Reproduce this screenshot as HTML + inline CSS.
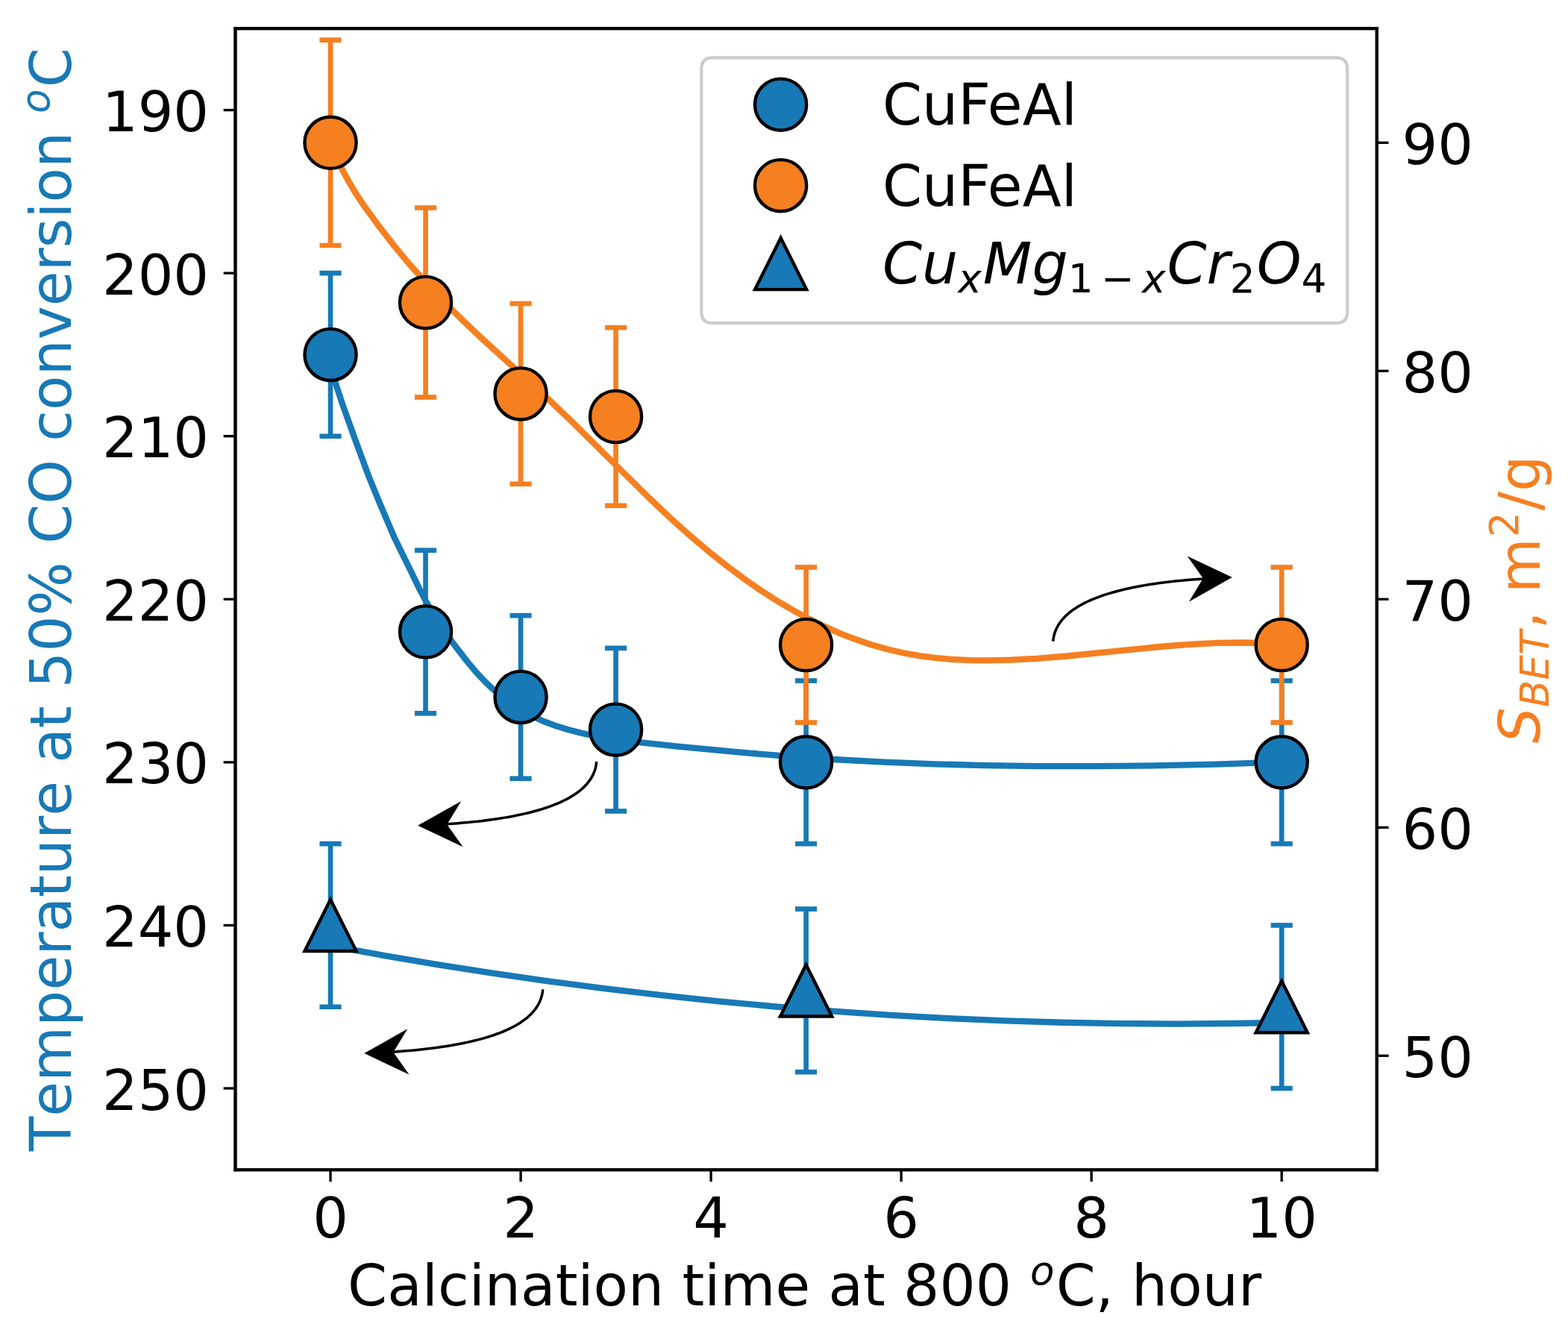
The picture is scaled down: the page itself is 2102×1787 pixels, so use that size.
<!DOCTYPE html>
<html><head><meta charset="utf-8"><title>Calcination plot</title>
<style>html,body{margin:0;padding:0;background:#fff;}svg{display:block;}</style>
</head><body>
<svg width="2102" height="1787" viewBox="0 0 504.48 428.88">
<defs>
<style type="text/css">*{stroke-linejoin: round; stroke-linecap: butt}</style>
</defs>
<g id="figure_1">
<g id="patch_1">
<path d="M 0 428.88
L 504.48 428.88
L 504.48 0
L 0 0
z
" style="fill: #ffffff"/>
</g>
<g id="axes_1">
<g id="patch_2">
<path d="M 75.72 376.392
L 442.968 376.392
L 442.968 9.192
L 75.72 9.192
z
" style="fill: #ffffff"/>
</g>
<g id="line2d_1">
<path d="M 106.324 117.724366
L 108.37109 124.546892
L 110.418181 130.718595
L 114.512361 142.089996
L 118.606542 153.179282
L 121.677177 160.71918
L 126.794903 172.780124
L 128.841993 176.967288
L 131.912629 183.176933
L 134.983264 189.579504
L 137.030355 193.457577
L 140.10099 198.681127
L 143.171625 203.333709
L 146.242261 207.574294
L 150.336441 212.856295
L 153.407077 216.515482
L 156.477712 219.754907
L 159.548348 222.600902
L 162.618983 225.086142
L 165.689619 227.243304
L 168.760254 229.105064
L 171.83089 230.704097
L 174.901525 232.073079
L 178.995706 233.59701
L 183.089886 234.847488
L 187.184067 235.89028
L 192.301793 236.952844
L 197.419518 237.799872
L 204.584334 238.730022
L 217.890421 240.13004
L 238.361324 242.089596
L 253.714502 243.345065
L 269.067679 244.376871
L 284.420856 245.194274
L 300.797579 245.842724
L 317.174301 246.274098
L 334.574569 246.510091
L 352.998381 246.528407
L 371.422194 246.327926
L 390.869552 245.900756
L 412.364 245.198553
L 412.364 245.198553
" clip-path="url(#p5c4e13d4b1)" style="fill: none; stroke: #1779b6; stroke-width: 2"/>
</g>
<g id="line2d_2">
<path d="M 106.324 304.308435
L 123.724268 307.454715
L 141.124535 310.386291
L 158.524803 313.104074
L 175.92507 315.608978
L 194.348883 318.030213
L 212.772696 320.214893
L 231.196508 322.164102
L 249.620321 323.878924
L 268.044134 325.360441
L 286.467946 326.609737
L 304.891759 327.627896
L 323.315572 328.416
L 341.739385 328.975133
L 360.163197 329.306379
L 378.58701 329.41082
L 397.010823 329.289539
L 412.364 329.016828
L 412.364 329.016828
" clip-path="url(#p5c4e13d4b1)" style="fill: none; stroke: #1779b6; stroke-width: 2"/>
</g>
<g id="matplotlib.axis_1">
<g id="xtick_1">
<g id="line2d_3">
<g>
<path d="M 0 0 L 0 3.8" transform="translate(106.324 376.392)" style="stroke: #000000; stroke-width: 0.8"/>
</g>
</g>
<g id="text_1">
<text style="font-size: 18px; font-family: 'DejaVu Sans', sans-serif; text-anchor: middle" x="106.324" y="398.119188" transform="rotate(-0 106.324 398.119188)">0</text>
</g>
</g>
<g id="xtick_2">
<g id="line2d_4">
<g>
<path d="M 0 0 L 0 3.8" transform="translate(167.532 376.392)" style="stroke: #000000; stroke-width: 0.8"/>
</g>
</g>
<g id="text_2">
<text style="font-size: 18px; font-family: 'DejaVu Sans', sans-serif; text-anchor: middle" x="167.532" y="398.119188" transform="rotate(-0 167.532 398.119188)">2</text>
</g>
</g>
<g id="xtick_3">
<g id="line2d_5">
<g>
<path d="M 0 0 L 0 3.8" transform="translate(228.74 376.392)" style="stroke: #000000; stroke-width: 0.8"/>
</g>
</g>
<g id="text_3">
<text style="font-size: 18px; font-family: 'DejaVu Sans', sans-serif; text-anchor: middle" x="228.74" y="398.119188" transform="rotate(-0 228.74 398.119188)">4</text>
</g>
</g>
<g id="xtick_4">
<g id="line2d_6">
<g>
<path d="M 0 0 L 0 3.8" transform="translate(289.948 376.392)" style="stroke: #000000; stroke-width: 0.8"/>
</g>
</g>
<g id="text_4">
<text style="font-size: 18px; font-family: 'DejaVu Sans', sans-serif; text-anchor: middle" x="289.948" y="398.119188" transform="rotate(-0 289.948 398.119188)">6</text>
</g>
</g>
<g id="xtick_5">
<g id="line2d_7">
<g>
<path d="M 0 0 L 0 3.8" transform="translate(351.156 376.392)" style="stroke: #000000; stroke-width: 0.8"/>
</g>
</g>
<g id="text_5">
<text style="font-size: 18px; font-family: 'DejaVu Sans', sans-serif; text-anchor: middle" x="351.156" y="398.119188" transform="rotate(-0 351.156 398.119188)">8</text>
</g>
</g>
<g id="xtick_6">
<g id="line2d_8">
<g>
<path d="M 0 0 L 0 3.8" transform="translate(412.364 376.392)" style="stroke: #000000; stroke-width: 0.8"/>
</g>
</g>
<g id="text_6">
<text style="font-size: 18px; font-family: 'DejaVu Sans', sans-serif; text-anchor: middle" x="412.364" y="398.119188" transform="rotate(-0 412.364 398.119188)">10</text>
</g>
</g>
<g id="text_7">
<!-- Calcination time at 800 $^o$C, hour -->
<g transform="translate(111.86 420.141781)">
<text>
<tspan x="0" y="-0.054688" style="font-size: 18.2px; font-family: 'DejaVu Sans', sans-serif">C</tspan>
<tspan x="12.74292" y="-0.054688" style="font-size: 18.2px; font-family: 'DejaVu Sans', sans-serif">a</tspan>
<tspan x="23.926392" y="-0.054688" style="font-size: 18.2px; font-family: 'DejaVu Sans', sans-serif">l</tspan>
<tspan x="28.996826" y="-0.054688" style="font-size: 18.2px; font-family: 'DejaVu Sans', sans-serif">c</tspan>
<tspan x="39.030762" y="-0.054688" style="font-size: 18.2px; font-family: 'DejaVu Sans', sans-serif">i</tspan>
<tspan x="44.101196" y="-0.054688" style="font-size: 18.2px; font-family: 'DejaVu Sans', sans-serif">n</tspan>
<tspan x="55.667847" y="-0.054688" style="font-size: 18.2px; font-family: 'DejaVu Sans', sans-serif">a</tspan>
<tspan x="66.851318" y="-0.054688" style="font-size: 18.2px; font-family: 'DejaVu Sans', sans-serif">t</tspan>
<tspan x="74.006958" y="-0.054688" style="font-size: 18.2px; font-family: 'DejaVu Sans', sans-serif">i</tspan>
<tspan x="79.077393" y="-0.054688" style="font-size: 18.2px; font-family: 'DejaVu Sans', sans-serif">o</tspan>
<tspan x="90.243042" y="-0.054688" style="font-size: 18.2px; font-family: 'DejaVu Sans', sans-serif">n</tspan>
<tspan x="101.809692" y="-0.054688" style="font-size: 18.2px; font-family: 'DejaVu Sans', sans-serif"> </tspan>
<tspan x="107.61084" y="-0.054688" style="font-size: 18.2px; font-family: 'DejaVu Sans', sans-serif">t</tspan>
<tspan x="114.766479" y="-0.054688" style="font-size: 18.2px; font-family: 'DejaVu Sans', sans-serif">i</tspan>
<tspan x="119.836914" y="-0.054688" style="font-size: 18.2px; font-family: 'DejaVu Sans', sans-serif">m</tspan>
<tspan x="137.614624" y="-0.054688" style="font-size: 18.2px; font-family: 'DejaVu Sans', sans-serif">e</tspan>
<tspan x="148.842651" y="-0.054688" style="font-size: 18.2px; font-family: 'DejaVu Sans', sans-serif"> </tspan>
<tspan x="154.643799" y="-0.054688" style="font-size: 18.2px; font-family: 'DejaVu Sans', sans-serif">a</tspan>
<tspan x="165.827271" y="-0.054688" style="font-size: 18.2px; font-family: 'DejaVu Sans', sans-serif">t</tspan>
<tspan x="172.98291" y="-0.054688" style="font-size: 18.2px; font-family: 'DejaVu Sans', sans-serif"> </tspan>
<tspan x="178.784058" y="-0.054688" style="font-size: 18.2px; font-family: 'DejaVu Sans', sans-serif">8</tspan>
<tspan x="190.395264" y="-0.054688" style="font-size: 18.2px; font-family: 'DejaVu Sans', sans-serif">0</tspan>
<tspan x="202.00647" y="-0.054688" style="font-size: 18.2px; font-family: 'DejaVu Sans', sans-serif">0</tspan>
<tspan x="213.617676" y="-0.054688" style="font-size: 18.2px; font-family: 'DejaVu Sans', sans-serif"> </tspan>
<tspan x="227.899231" y="-0.054688" style="font-size: 18.2px; font-family: 'DejaVu Sans', sans-serif">C</tspan>
<tspan x="240.642151" y="-0.054688" style="font-size: 18.2px; font-family: 'DejaVu Sans', sans-serif">,</tspan>
<tspan x="246.443298" y="-0.054688" style="font-size: 18.2px; font-family: 'DejaVu Sans', sans-serif"> </tspan>
<tspan x="252.244446" y="-0.054688" style="font-size: 18.2px; font-family: 'DejaVu Sans', sans-serif">h</tspan>
<tspan x="263.811096" y="-0.054688" style="font-size: 18.2px; font-family: 'DejaVu Sans', sans-serif">o</tspan>
<tspan x="274.976746" y="-0.054688" style="font-size: 18.2px; font-family: 'DejaVu Sans', sans-serif">u</tspan>
<tspan x="286.543396" y="-0.054688" style="font-size: 18.2px; font-family: 'DejaVu Sans', sans-serif">r</tspan>
<tspan x="219.591089" y="-6.945312" style="font-style: oblique; font-size: 12.74px; font-family: 'DejaVu Sans', sans-serif">o</tspan>
</text>
</g>
</g>
</g>
<g id="matplotlib.axis_2">
<g id="ytick_1">
<g id="line2d_9">
<g>
<path d="M 0 0 L -3.8 0" transform="translate(75.72 35.420571)" style="stroke: #000000; stroke-width: 0.8"/>
</g>
</g>
<g id="text_8">
<text style="font-size: 18px; font-family: 'DejaVu Sans', sans-serif; text-anchor: end" x="67.22" y="42.259165" transform="rotate(-0 67.22 42.259165)">190</text>
</g>
</g>
<g id="ytick_2">
<g id="line2d_10">
<g>
<path d="M 0 0 L -3.8 0" transform="translate(75.72 87.877714)" style="stroke: #000000; stroke-width: 0.8"/>
</g>
</g>
<g id="text_9">
<text style="font-size: 18px; font-family: 'DejaVu Sans', sans-serif; text-anchor: end" x="67.22" y="94.716308" transform="rotate(-0 67.22 94.716308)">200</text>
</g>
</g>
<g id="ytick_3">
<g id="line2d_11">
<g>
<path d="M 0 0 L -3.8 0" transform="translate(75.72 140.334857)" style="stroke: #000000; stroke-width: 0.8"/>
</g>
</g>
<g id="text_10">
<text style="font-size: 18px; font-family: 'DejaVu Sans', sans-serif; text-anchor: end" x="67.22" y="147.173451" transform="rotate(-0 67.22 147.173451)">210</text>
</g>
</g>
<g id="ytick_4">
<g id="line2d_12">
<g>
<path d="M 0 0 L -3.8 0" transform="translate(75.72 192.792)" style="stroke: #000000; stroke-width: 0.8"/>
</g>
</g>
<g id="text_11">
<text style="font-size: 18px; font-family: 'DejaVu Sans', sans-serif; text-anchor: end" x="67.22" y="199.630594" transform="rotate(-0 67.22 199.630594)">220</text>
</g>
</g>
<g id="ytick_5">
<g id="line2d_13">
<g>
<path d="M 0 0 L -3.8 0" transform="translate(75.72 245.249143)" style="stroke: #000000; stroke-width: 0.8"/>
</g>
</g>
<g id="text_12">
<text style="font-size: 18px; font-family: 'DejaVu Sans', sans-serif; text-anchor: end" x="67.22" y="252.087737" transform="rotate(-0 67.22 252.087737)">230</text>
</g>
</g>
<g id="ytick_6">
<g id="line2d_14">
<g>
<path d="M 0 0 L -3.8 0" transform="translate(75.72 297.706286)" style="stroke: #000000; stroke-width: 0.8"/>
</g>
</g>
<g id="text_13">
<text style="font-size: 18px; font-family: 'DejaVu Sans', sans-serif; text-anchor: end" x="67.22" y="304.544879" transform="rotate(-0 67.22 304.544879)">240</text>
</g>
</g>
<g id="ytick_7">
<g id="line2d_15">
<g>
<path d="M 0 0 L -3.8 0" transform="translate(75.72 350.163429)" style="stroke: #000000; stroke-width: 0.8"/>
</g>
</g>
<g id="text_14">
<text style="font-size: 18px; font-family: 'DejaVu Sans', sans-serif; text-anchor: end" x="67.22" y="357.002022" transform="rotate(-0 67.22 357.002022)">250</text>
</g>
</g>
<g id="text_15">
<!-- Temperature at 50% CO conversion $^o$C -->
<g style="fill: #1779b6" transform="translate(22.78 370.3645) rotate(-90)">
<text>
<tspan x="0" y="-0.054688" style="font-size: 18.25px; font-family: 'DejaVu Sans', sans-serif; fill: #1779b6">T</tspan>
<tspan x="11.147827" y="-0.054688" style="font-size: 18.25px; font-family: 'DejaVu Sans', sans-serif; fill: #1779b6">e</tspan>
<tspan x="22.375854" y="-0.054688" style="font-size: 18.25px; font-family: 'DejaVu Sans', sans-serif; fill: #1779b6">m</tspan>
<tspan x="40.153564" y="-0.054688" style="font-size: 18.25px; font-family: 'DejaVu Sans', sans-serif; fill: #1779b6">p</tspan>
<tspan x="51.738037" y="-0.054688" style="font-size: 18.25px; font-family: 'DejaVu Sans', sans-serif; fill: #1779b6">e</tspan>
<tspan x="62.966064" y="-0.054688" style="font-size: 18.25px; font-family: 'DejaVu Sans', sans-serif; fill: #1779b6">r</tspan>
<tspan x="70.469238" y="-0.054688" style="font-size: 18.25px; font-family: 'DejaVu Sans', sans-serif; fill: #1779b6">a</tspan>
<tspan x="81.65271" y="-0.054688" style="font-size: 18.25px; font-family: 'DejaVu Sans', sans-serif; fill: #1779b6">t</tspan>
<tspan x="88.80835" y="-0.054688" style="font-size: 18.25px; font-family: 'DejaVu Sans', sans-serif; fill: #1779b6">u</tspan>
<tspan x="100.375" y="-0.054688" style="font-size: 18.25px; font-family: 'DejaVu Sans', sans-serif; fill: #1779b6">r</tspan>
<tspan x="107.878174" y="-0.054688" style="font-size: 18.25px; font-family: 'DejaVu Sans', sans-serif; fill: #1779b6">e</tspan>
<tspan x="119.106201" y="-0.054688" style="font-size: 18.25px; font-family: 'DejaVu Sans', sans-serif; fill: #1779b6"> </tspan>
<tspan x="124.907349" y="-0.054688" style="font-size: 18.25px; font-family: 'DejaVu Sans', sans-serif; fill: #1779b6">a</tspan>
<tspan x="136.09082" y="-0.054688" style="font-size: 18.25px; font-family: 'DejaVu Sans', sans-serif; fill: #1779b6">t</tspan>
<tspan x="143.24646" y="-0.054688" style="font-size: 18.25px; font-family: 'DejaVu Sans', sans-serif; fill: #1779b6"> </tspan>
<tspan x="149.047607" y="-0.054688" style="font-size: 18.25px; font-family: 'DejaVu Sans', sans-serif; fill: #1779b6">5</tspan>
<tspan x="160.658813" y="-0.054688" style="font-size: 18.25px; font-family: 'DejaVu Sans', sans-serif; fill: #1779b6">0</tspan>
<tspan x="172.27002" y="-0.054688" style="font-size: 18.25px; font-family: 'DejaVu Sans', sans-serif; fill: #1779b6">%</tspan>
<tspan x="189.611084" y="-0.054688" style="font-size: 18.25px; font-family: 'DejaVu Sans', sans-serif; fill: #1779b6"> </tspan>
<tspan x="195.412231" y="-0.054688" style="font-size: 18.25px; font-family: 'DejaVu Sans', sans-serif; fill: #1779b6">C</tspan>
<tspan x="208.155151" y="-0.054688" style="font-size: 18.25px; font-family: 'DejaVu Sans', sans-serif; fill: #1779b6">O</tspan>
<tspan x="222.519897" y="-0.054688" style="font-size: 18.25px; font-family: 'DejaVu Sans', sans-serif; fill: #1779b6"> </tspan>
<tspan x="228.321045" y="-0.054688" style="font-size: 18.25px; font-family: 'DejaVu Sans', sans-serif; fill: #1779b6">c</tspan>
<tspan x="238.35498" y="-0.054688" style="font-size: 18.25px; font-family: 'DejaVu Sans', sans-serif; fill: #1779b6">o</tspan>
<tspan x="249.52063" y="-0.054688" style="font-size: 18.25px; font-family: 'DejaVu Sans', sans-serif; fill: #1779b6">n</tspan>
<tspan x="261.08728" y="-0.054688" style="font-size: 18.25px; font-family: 'DejaVu Sans', sans-serif; fill: #1779b6">v</tspan>
<tspan x="271.887573" y="-0.054688" style="font-size: 18.25px; font-family: 'DejaVu Sans', sans-serif; fill: #1779b6">e</tspan>
<tspan x="283.115601" y="-0.054688" style="font-size: 18.25px; font-family: 'DejaVu Sans', sans-serif; fill: #1779b6">r</tspan>
<tspan x="290.618774" y="-0.054688" style="font-size: 18.25px; font-family: 'DejaVu Sans', sans-serif; fill: #1779b6">s</tspan>
<tspan x="300.126953" y="-0.054688" style="font-size: 18.25px; font-family: 'DejaVu Sans', sans-serif; fill: #1779b6">i</tspan>
<tspan x="305.197388" y="-0.054688" style="font-size: 18.25px; font-family: 'DejaVu Sans', sans-serif; fill: #1779b6">o</tspan>
<tspan x="316.363037" y="-0.054688" style="font-size: 18.25px; font-family: 'DejaVu Sans', sans-serif; fill: #1779b6">n</tspan>
<tspan x="327.929688" y="-0.054688" style="font-size: 18.25px; font-family: 'DejaVu Sans', sans-serif; fill: #1779b6"> </tspan>
<tspan x="342.211243" y="-0.054688" style="font-size: 18.25px; font-family: 'DejaVu Sans', sans-serif; fill: #1779b6">C</tspan>
<tspan x="333.903101" y="-6.945312" style="font-style: oblique; font-size: 12.775px; font-family: 'DejaVu Sans', sans-serif; fill: #1779b6">o</tspan>
</text>
</g>
</g>
</g>
<g id="LineCollection_1">
<path d="M 106.324 87.877714
L 106.324 140.334857
" clip-path="url(#p5c4e13d4b1)" style="fill: none; stroke: #1779b6; stroke-width: 1.6"/>
<path d="M 136.928 177.054857
L 136.928 229.512
" clip-path="url(#p5c4e13d4b1)" style="fill: none; stroke: #1779b6; stroke-width: 1.6"/>
<path d="M 167.532 198.037714
L 167.532 250.494857
" clip-path="url(#p5c4e13d4b1)" style="fill: none; stroke: #1779b6; stroke-width: 1.6"/>
<path d="M 198.136 208.529143
L 198.136 260.986286
" clip-path="url(#p5c4e13d4b1)" style="fill: none; stroke: #1779b6; stroke-width: 1.6"/>
<path d="M 259.344 219.020571
L 259.344 271.477714
" clip-path="url(#p5c4e13d4b1)" style="fill: none; stroke: #1779b6; stroke-width: 1.6"/>
<path d="M 412.364 219.020571
L 412.364 271.477714
" clip-path="url(#p5c4e13d4b1)" style="fill: none; stroke: #1779b6; stroke-width: 1.6"/>
</g>
<g id="line2d_16">
<g clip-path="url(#p5c4e13d4b1)">
<path d="M 3.5 0 L -3.5 -0" transform="translate(106.324 87.877714)" style="fill: #1f77b4; stroke: #1779b6; stroke-width: 1.6"/>
<path d="M 3.5 0 L -3.5 -0" transform="translate(136.928 177.054857)" style="fill: #1f77b4; stroke: #1779b6; stroke-width: 1.6"/>
<path d="M 3.5 0 L -3.5 -0" transform="translate(167.532 198.037714)" style="fill: #1f77b4; stroke: #1779b6; stroke-width: 1.6"/>
<path d="M 3.5 0 L -3.5 -0" transform="translate(198.136 208.529143)" style="fill: #1f77b4; stroke: #1779b6; stroke-width: 1.6"/>
<path d="M 3.5 0 L -3.5 -0" transform="translate(259.344 219.020571)" style="fill: #1f77b4; stroke: #1779b6; stroke-width: 1.6"/>
<path d="M 3.5 0 L -3.5 -0" transform="translate(412.364 219.020571)" style="fill: #1f77b4; stroke: #1779b6; stroke-width: 1.6"/>
</g>
</g>
<g id="line2d_17">
<g clip-path="url(#p5c4e13d4b1)">
<path d="M 3.5 0 L -3.5 -0" transform="translate(106.324 140.334857)" style="fill: #1f77b4; stroke: #1779b6; stroke-width: 1.6"/>
<path d="M 3.5 0 L -3.5 -0" transform="translate(136.928 229.512)" style="fill: #1f77b4; stroke: #1779b6; stroke-width: 1.6"/>
<path d="M 3.5 0 L -3.5 -0" transform="translate(167.532 250.494857)" style="fill: #1f77b4; stroke: #1779b6; stroke-width: 1.6"/>
<path d="M 3.5 0 L -3.5 -0" transform="translate(198.136 260.986286)" style="fill: #1f77b4; stroke: #1779b6; stroke-width: 1.6"/>
<path d="M 3.5 0 L -3.5 -0" transform="translate(259.344 271.477714)" style="fill: #1f77b4; stroke: #1779b6; stroke-width: 1.6"/>
<path d="M 3.5 0 L -3.5 -0" transform="translate(412.364 271.477714)" style="fill: #1f77b4; stroke: #1779b6; stroke-width: 1.6"/>
</g>
</g>
<g id="LineCollection_2">
<path d="M 106.324 271.477714
L 106.324 323.934857
" clip-path="url(#p5c4e13d4b1)" style="fill: none; stroke: #1779b6; stroke-width: 1.6"/>
<path d="M 259.344 292.460571
L 259.344 344.917714
" clip-path="url(#p5c4e13d4b1)" style="fill: none; stroke: #1779b6; stroke-width: 1.6"/>
<path d="M 412.364 297.706286
L 412.364 350.163429
" clip-path="url(#p5c4e13d4b1)" style="fill: none; stroke: #1779b6; stroke-width: 1.6"/>
</g>
<g id="line2d_18">
<g clip-path="url(#p5c4e13d4b1)">
<path d="M 3.5 0 L -3.5 -0" transform="translate(106.324 271.477714)" style="fill: #1f77b4; stroke: #1779b6; stroke-width: 1.6"/>
<path d="M 3.5 0 L -3.5 -0" transform="translate(259.344 292.460571)" style="fill: #1f77b4; stroke: #1779b6; stroke-width: 1.6"/>
<path d="M 3.5 0 L -3.5 -0" transform="translate(412.364 297.706286)" style="fill: #1f77b4; stroke: #1779b6; stroke-width: 1.6"/>
</g>
</g>
<g id="line2d_19">
<g clip-path="url(#p5c4e13d4b1)">
<path d="M 3.5 0 L -3.5 -0" transform="translate(106.324 323.934857)" style="fill: #1f77b4; stroke: #1779b6; stroke-width: 1.6"/>
<path d="M 3.5 0 L -3.5 -0" transform="translate(259.344 344.917714)" style="fill: #1f77b4; stroke: #1779b6; stroke-width: 1.6"/>
<path d="M 3.5 0 L -3.5 -0" transform="translate(412.364 350.163429)" style="fill: #1f77b4; stroke: #1779b6; stroke-width: 1.6"/>
</g>
</g>
<g id="patch_3">
<path d="M 75.72 376.392
L 75.72 9.192
" style="fill: none; stroke: #000000; stroke-width: 0.95; stroke-linejoin: miter; stroke-linecap: square"/>
</g>
<g id="patch_4">
<path d="M 442.968 376.392
L 442.968 9.192
" style="fill: none; stroke: #000000; stroke-width: 0.95; stroke-linejoin: miter; stroke-linecap: square"/>
</g>
<g id="patch_5">
<path d="M 75.72 376.392
L 442.968 376.392
" style="fill: none; stroke: #000000; stroke-width: 0.95; stroke-linejoin: miter; stroke-linecap: square"/>
</g>
<g id="patch_6">
<path d="M 75.72 9.192
L 442.968 9.192
" style="fill: none; stroke: #000000; stroke-width: 0.95; stroke-linejoin: miter; stroke-linecap: square"/>
</g>
<g id="line2d_20">
<g clip-path="url(#p5c4e13d4b1)">
<path d="M 0 8.3 C 2.201186 8.3 4.312513 7.42546 5.868986 5.868986 C 7.42546 4.312513 8.3 2.201186 8.3 0 C 8.3 -2.201186 7.42546 -4.312513 5.868986 -5.868986 C 4.312513 -7.42546 2.201186 -8.3 0 -8.3 C -2.201186 -8.3 -4.312513 -7.42546 -5.868986 -5.868986 C -7.42546 -4.312513 -8.3 -2.201186 -8.3 0 C -8.3 2.201186 -7.42546 4.312513 -5.868986 5.868986 C -4.312513 7.42546 -2.201186 8.3 0 8.3 z" transform="translate(106.324 114.106286)" style="fill: #1779b6; stroke: #000000; stroke-width: 1.05"/>
<path d="M 0 8.3 C 2.201186 8.3 4.312513 7.42546 5.868986 5.868986 C 7.42546 4.312513 8.3 2.201186 8.3 0 C 8.3 -2.201186 7.42546 -4.312513 5.868986 -5.868986 C 4.312513 -7.42546 2.201186 -8.3 0 -8.3 C -2.201186 -8.3 -4.312513 -7.42546 -5.868986 -5.868986 C -7.42546 -4.312513 -8.3 -2.201186 -8.3 0 C -8.3 2.201186 -7.42546 4.312513 -5.868986 5.868986 C -4.312513 7.42546 -2.201186 8.3 0 8.3 z" transform="translate(136.928 203.283429)" style="fill: #1779b6; stroke: #000000; stroke-width: 1.05"/>
<path d="M 0 8.3 C 2.201186 8.3 4.312513 7.42546 5.868986 5.868986 C 7.42546 4.312513 8.3 2.201186 8.3 0 C 8.3 -2.201186 7.42546 -4.312513 5.868986 -5.868986 C 4.312513 -7.42546 2.201186 -8.3 0 -8.3 C -2.201186 -8.3 -4.312513 -7.42546 -5.868986 -5.868986 C -7.42546 -4.312513 -8.3 -2.201186 -8.3 0 C -8.3 2.201186 -7.42546 4.312513 -5.868986 5.868986 C -4.312513 7.42546 -2.201186 8.3 0 8.3 z" transform="translate(167.532 224.266286)" style="fill: #1779b6; stroke: #000000; stroke-width: 1.05"/>
<path d="M 0 8.3 C 2.201186 8.3 4.312513 7.42546 5.868986 5.868986 C 7.42546 4.312513 8.3 2.201186 8.3 0 C 8.3 -2.201186 7.42546 -4.312513 5.868986 -5.868986 C 4.312513 -7.42546 2.201186 -8.3 0 -8.3 C -2.201186 -8.3 -4.312513 -7.42546 -5.868986 -5.868986 C -7.42546 -4.312513 -8.3 -2.201186 -8.3 0 C -8.3 2.201186 -7.42546 4.312513 -5.868986 5.868986 C -4.312513 7.42546 -2.201186 8.3 0 8.3 z" transform="translate(198.136 234.757714)" style="fill: #1779b6; stroke: #000000; stroke-width: 1.05"/>
<path d="M 0 8.3 C 2.201186 8.3 4.312513 7.42546 5.868986 5.868986 C 7.42546 4.312513 8.3 2.201186 8.3 0 C 8.3 -2.201186 7.42546 -4.312513 5.868986 -5.868986 C 4.312513 -7.42546 2.201186 -8.3 0 -8.3 C -2.201186 -8.3 -4.312513 -7.42546 -5.868986 -5.868986 C -7.42546 -4.312513 -8.3 -2.201186 -8.3 0 C -8.3 2.201186 -7.42546 4.312513 -5.868986 5.868986 C -4.312513 7.42546 -2.201186 8.3 0 8.3 z" transform="translate(259.344 245.249143)" style="fill: #1779b6; stroke: #000000; stroke-width: 1.05"/>
<path d="M 0 8.3 C 2.201186 8.3 4.312513 7.42546 5.868986 5.868986 C 7.42546 4.312513 8.3 2.201186 8.3 0 C 8.3 -2.201186 7.42546 -4.312513 5.868986 -5.868986 C 4.312513 -7.42546 2.201186 -8.3 0 -8.3 C -2.201186 -8.3 -4.312513 -7.42546 -5.868986 -5.868986 C -7.42546 -4.312513 -8.3 -2.201186 -8.3 0 C -8.3 2.201186 -7.42546 4.312513 -5.868986 5.868986 C -4.312513 7.42546 -2.201186 8.3 0 8.3 z" transform="translate(412.364 245.249143)" style="fill: #1779b6; stroke: #000000; stroke-width: 1.05"/>
</g>
</g>
<g id="line2d_21">
<g clip-path="url(#p5c4e13d4b1)">
<path d="M 0 -8.3 L -8.3 8.3 L 8.3 8.3 z" transform="translate(106.324 297.706286)" style="fill: #1779b6; stroke: #000000; stroke-width: 1.05; stroke-linejoin: miter"/>
<path d="M 0 -8.3 L -8.3 8.3 L 8.3 8.3 z" transform="translate(259.344 318.689143)" style="fill: #1779b6; stroke: #000000; stroke-width: 1.05; stroke-linejoin: miter"/>
<path d="M 0 -8.3 L -8.3 8.3 L 8.3 8.3 z" transform="translate(412.364 323.934857)" style="fill: #1779b6; stroke: #000000; stroke-width: 1.05; stroke-linejoin: miter"/>
</g>
</g>
</g>
<g id="axes_2">
<g id="line2d_22">
<path d="M 106.324 46.103936
L 108.37109 50.8893
L 110.418181 55.120619
L 112.465271 58.887025
L 114.512361 62.277652
L 117.582997 66.853982
L 121.677177 72.453524
L 126.794903 79.043486
L 131.912629 85.209654
L 137.030355 90.97365
L 142.14808 96.387549
L 148.289351 102.512251
L 155.454167 109.284747
L 166.713164 119.521518
L 176.948615 128.899527
L 184.113431 135.760092
L 195.372428 146.915189
L 208.678515 160.051006
L 215.843331 166.816636
L 221.984602 172.32156
L 228.125873 177.521922
L 234.267144 182.400531
L 239.38487 186.20785
L 244.502595 189.769841
L 249.620321 193.07753
L 254.738047 196.127012
L 259.855773 198.916023
L 264.973498 201.4423
L 270.091224 203.703578
L 275.20895 205.697596
L 280.326676 207.422088
L 285.444401 208.874793
L 290.562127 210.054415
L 295.679853 210.973369
L 300.797579 211.654234
L 305.915304 212.119829
L 312.056575 212.42652
L 318.197846 212.495516
L 325.362662 212.328187
L 333.551023 211.880773
L 342.76293 211.136001
L 356.069017 209.802802
L 374.492829 207.958969
L 383.704736 207.257627
L 391.893097 206.865223
L 399.057913 206.75717
L 405.199184 206.876362
L 411.340455 207.221981
L 412.364 207.303655
L 412.364 207.303655
" clip-path="url(#p5c4e13d4b1)" style="fill: none; stroke: #f67f20; stroke-width: 2"/>
</g>
<g id="matplotlib.axis_3">
<g id="ytick_8">
<g id="line2d_23">
<g>
<path d="M 0 0 L 3.8 0" transform="translate(442.968 339.672)" style="stroke: #000000; stroke-width: 0.8"/>
</g>
</g>
<g id="text_16">
<text style="font-size: 18px; font-family: 'DejaVu Sans', sans-serif; text-anchor: start" x="451.088" y="346.510594" transform="rotate(-0 451.088 346.510594)">50</text>
</g>
</g>
<g id="ytick_9">
<g id="line2d_24">
<g>
<path d="M 0 0 L 3.8 0" transform="translate(442.968 266.232)" style="stroke: #000000; stroke-width: 0.8"/>
</g>
</g>
<g id="text_17">
<text style="font-size: 18px; font-family: 'DejaVu Sans', sans-serif; text-anchor: start" x="451.088" y="273.070594" transform="rotate(-0 451.088 273.070594)">60</text>
</g>
</g>
<g id="ytick_10">
<g id="line2d_25">
<g>
<path d="M 0 0 L 3.8 0" transform="translate(442.968 192.792)" style="stroke: #000000; stroke-width: 0.8"/>
</g>
</g>
<g id="text_18">
<text style="font-size: 18px; font-family: 'DejaVu Sans', sans-serif; text-anchor: start" x="451.088" y="199.630594" transform="rotate(-0 451.088 199.630594)">70</text>
</g>
</g>
<g id="ytick_11">
<g id="line2d_26">
<g>
<path d="M 0 0 L 3.8 0" transform="translate(442.968 119.352)" style="stroke: #000000; stroke-width: 0.8"/>
</g>
</g>
<g id="text_19">
<text style="font-size: 18px; font-family: 'DejaVu Sans', sans-serif; text-anchor: start" x="451.088" y="126.190594" transform="rotate(-0 451.088 126.190594)">80</text>
</g>
</g>
<g id="ytick_12">
<g id="line2d_27">
<g>
<path d="M 0 0 L 3.8 0" transform="translate(442.968 45.912)" style="stroke: #000000; stroke-width: 0.8"/>
</g>
</g>
<g id="text_20">
<text style="font-size: 18px; font-family: 'DejaVu Sans', sans-serif; text-anchor: start" x="451.088" y="52.750594" transform="rotate(-0 451.088 52.750594)">90</text>
</g>
</g>
<g id="text_21">
<!-- $S_{BET}$, m$^2$/g -->
<g style="fill: #f67f20" transform="translate(496.1605 239.147) rotate(-90)">
<text>
<tspan x="0" y="-0.757812" style="font-style: oblique; font-size: 18.25px; font-family: 'DejaVu Sans', sans-serif; fill: #f67f20">S</tspan>
<tspan x="11.584473" y="2.195312" style="font-style: oblique; font-size: 12.775px; font-family: 'DejaVu Sans', sans-serif; fill: #f67f20">B</tspan>
<tspan x="20.348572" y="2.195312" style="font-style: oblique; font-size: 12.775px; font-family: 'DejaVu Sans', sans-serif; fill: #f67f20">E</tspan>
<tspan x="28.420276" y="2.195312" style="font-style: oblique; font-size: 12.775px; font-family: 'DejaVu Sans', sans-serif; fill: #f67f20">T</tspan>
<tspan x="36.715942" y="-0.757812" style="font-size: 18.25px; font-family: 'DejaVu Sans', sans-serif; fill: #f67f20">,</tspan>
<tspan x="42.51709" y="-0.757812" style="font-size: 18.25px; font-family: 'DejaVu Sans', sans-serif; fill: #f67f20"> </tspan>
<tspan x="48.318237" y="-0.757812" style="font-size: 18.25px; font-family: 'DejaVu Sans', sans-serif; fill: #f67f20">m</tspan>
<tspan x="74.888245" y="-0.757812" style="font-size: 18.25px; font-family: 'DejaVu Sans', sans-serif; fill: #f67f20">/</tspan>
<tspan x="81.036926" y="-0.757812" style="font-size: 18.25px; font-family: 'DejaVu Sans', sans-serif; fill: #f67f20">g</tspan>
<tspan x="66.268213" y="-7.648438" style="font-size: 12.775px; font-family: 'DejaVu Sans', sans-serif; fill: #f67f20">2</tspan>
</text>
</g>
</g>
</g>
<g id="LineCollection_3">
<path d="M 106.324 78.96
L 106.324 12.864
" clip-path="url(#p5c4e13d4b1)" style="fill: none; stroke: #f67f20; stroke-width: 1.6"/>
<path d="M 136.928 127.7976
L 136.928 66.8424
" clip-path="url(#p5c4e13d4b1)" style="fill: none; stroke: #f67f20; stroke-width: 1.6"/>
<path d="M 167.532 155.7048
L 167.532 97.6872
" clip-path="url(#p5c4e13d4b1)" style="fill: none; stroke: #f67f20; stroke-width: 1.6"/>
<path d="M 198.136 162.6816
L 198.136 105.3984
" clip-path="url(#p5c4e13d4b1)" style="fill: none; stroke: #f67f20; stroke-width: 1.6"/>
<path d="M 259.344 232.4496
L 259.344 182.5104
" clip-path="url(#p5c4e13d4b1)" style="fill: none; stroke: #f67f20; stroke-width: 1.6"/>
<path d="M 412.364 232.4496
L 412.364 182.5104
" clip-path="url(#p5c4e13d4b1)" style="fill: none; stroke: #f67f20; stroke-width: 1.6"/>
</g>
<g id="line2d_28">
<g clip-path="url(#p5c4e13d4b1)">
<path d="M 3.5 0 L -3.5 -0" transform="translate(106.324 78.96)" style="fill: #1f77b4; stroke: #f67f20; stroke-width: 1.6"/>
<path d="M 3.5 0 L -3.5 -0" transform="translate(136.928 127.7976)" style="fill: #1f77b4; stroke: #f67f20; stroke-width: 1.6"/>
<path d="M 3.5 0 L -3.5 -0" transform="translate(167.532 155.7048)" style="fill: #1f77b4; stroke: #f67f20; stroke-width: 1.6"/>
<path d="M 3.5 0 L -3.5 -0" transform="translate(198.136 162.6816)" style="fill: #1f77b4; stroke: #f67f20; stroke-width: 1.6"/>
<path d="M 3.5 0 L -3.5 -0" transform="translate(259.344 232.4496)" style="fill: #1f77b4; stroke: #f67f20; stroke-width: 1.6"/>
<path d="M 3.5 0 L -3.5 -0" transform="translate(412.364 232.4496)" style="fill: #1f77b4; stroke: #f67f20; stroke-width: 1.6"/>
</g>
</g>
<g id="line2d_29">
<g clip-path="url(#p5c4e13d4b1)">
<path d="M 3.5 0 L -3.5 -0" transform="translate(106.324 12.864)" style="fill: #1f77b4; stroke: #f67f20; stroke-width: 1.6"/>
<path d="M 3.5 0 L -3.5 -0" transform="translate(136.928 66.8424)" style="fill: #1f77b4; stroke: #f67f20; stroke-width: 1.6"/>
<path d="M 3.5 0 L -3.5 -0" transform="translate(167.532 97.6872)" style="fill: #1f77b4; stroke: #f67f20; stroke-width: 1.6"/>
<path d="M 3.5 0 L -3.5 -0" transform="translate(198.136 105.3984)" style="fill: #1f77b4; stroke: #f67f20; stroke-width: 1.6"/>
<path d="M 3.5 0 L -3.5 -0" transform="translate(259.344 182.5104)" style="fill: #1f77b4; stroke: #f67f20; stroke-width: 1.6"/>
<path d="M 3.5 0 L -3.5 -0" transform="translate(412.364 182.5104)" style="fill: #1f77b4; stroke: #f67f20; stroke-width: 1.6"/>
</g>
</g>
<g id="patch_7">
<path d="M 75.72 376.392
L 75.72 9.192
" style="fill: none; stroke: #000000; stroke-width: 0.95; stroke-linejoin: miter; stroke-linecap: square"/>
</g>
<g id="patch_8">
<path d="M 442.968 376.392
L 442.968 9.192
" style="fill: none; stroke: #000000; stroke-width: 0.95; stroke-linejoin: miter; stroke-linecap: square"/>
</g>
<g id="patch_9">
<path d="M 75.72 376.392
L 442.968 376.392
" style="fill: none; stroke: #000000; stroke-width: 0.95; stroke-linejoin: miter; stroke-linecap: square"/>
</g>
<g id="patch_10">
<path d="M 75.72 9.192
L 442.968 9.192
" style="fill: none; stroke: #000000; stroke-width: 0.95; stroke-linejoin: miter; stroke-linecap: square"/>
</g>
<g id="line2d_30">
<g clip-path="url(#p5c4e13d4b1)">
<path d="M 0 8.3 C 2.201186 8.3 4.312513 7.42546 5.868986 5.868986 C 7.42546 4.312513 8.3 2.201186 8.3 0 C 8.3 -2.201186 7.42546 -4.312513 5.868986 -5.868986 C 4.312513 -7.42546 2.201186 -8.3 0 -8.3 C -2.201186 -8.3 -4.312513 -7.42546 -5.868986 -5.868986 C -7.42546 -4.312513 -8.3 -2.201186 -8.3 0 C -8.3 2.201186 -7.42546 4.312513 -5.868986 5.868986 C -4.312513 7.42546 -2.201186 8.3 0 8.3 z" transform="translate(106.324 45.912)" style="fill: #f67f20; stroke: #000000; stroke-width: 1.05"/>
<path d="M 0 8.3 C 2.201186 8.3 4.312513 7.42546 5.868986 5.868986 C 7.42546 4.312513 8.3 2.201186 8.3 0 C 8.3 -2.201186 7.42546 -4.312513 5.868986 -5.868986 C 4.312513 -7.42546 2.201186 -8.3 0 -8.3 C -2.201186 -8.3 -4.312513 -7.42546 -5.868986 -5.868986 C -7.42546 -4.312513 -8.3 -2.201186 -8.3 0 C -8.3 2.201186 -7.42546 4.312513 -5.868986 5.868986 C -4.312513 7.42546 -2.201186 8.3 0 8.3 z" transform="translate(136.928 97.32)" style="fill: #f67f20; stroke: #000000; stroke-width: 1.05"/>
<path d="M 0 8.3 C 2.201186 8.3 4.312513 7.42546 5.868986 5.868986 C 7.42546 4.312513 8.3 2.201186 8.3 0 C 8.3 -2.201186 7.42546 -4.312513 5.868986 -5.868986 C 4.312513 -7.42546 2.201186 -8.3 0 -8.3 C -2.201186 -8.3 -4.312513 -7.42546 -5.868986 -5.868986 C -7.42546 -4.312513 -8.3 -2.201186 -8.3 0 C -8.3 2.201186 -7.42546 4.312513 -5.868986 5.868986 C -4.312513 7.42546 -2.201186 8.3 0 8.3 z" transform="translate(167.532 126.696)" style="fill: #f67f20; stroke: #000000; stroke-width: 1.05"/>
<path d="M 0 8.3 C 2.201186 8.3 4.312513 7.42546 5.868986 5.868986 C 7.42546 4.312513 8.3 2.201186 8.3 0 C 8.3 -2.201186 7.42546 -4.312513 5.868986 -5.868986 C 4.312513 -7.42546 2.201186 -8.3 0 -8.3 C -2.201186 -8.3 -4.312513 -7.42546 -5.868986 -5.868986 C -7.42546 -4.312513 -8.3 -2.201186 -8.3 0 C -8.3 2.201186 -7.42546 4.312513 -5.868986 5.868986 C -4.312513 7.42546 -2.201186 8.3 0 8.3 z" transform="translate(198.136 134.04)" style="fill: #f67f20; stroke: #000000; stroke-width: 1.05"/>
<path d="M 0 8.3 C 2.201186 8.3 4.312513 7.42546 5.868986 5.868986 C 7.42546 4.312513 8.3 2.201186 8.3 0 C 8.3 -2.201186 7.42546 -4.312513 5.868986 -5.868986 C 4.312513 -7.42546 2.201186 -8.3 0 -8.3 C -2.201186 -8.3 -4.312513 -7.42546 -5.868986 -5.868986 C -7.42546 -4.312513 -8.3 -2.201186 -8.3 0 C -8.3 2.201186 -7.42546 4.312513 -5.868986 5.868986 C -4.312513 7.42546 -2.201186 8.3 0 8.3 z" transform="translate(259.344 207.48)" style="fill: #f67f20; stroke: #000000; stroke-width: 1.05"/>
<path d="M 0 8.3 C 2.201186 8.3 4.312513 7.42546 5.868986 5.868986 C 7.42546 4.312513 8.3 2.201186 8.3 0 C 8.3 -2.201186 7.42546 -4.312513 5.868986 -5.868986 C 4.312513 -7.42546 2.201186 -8.3 0 -8.3 C -2.201186 -8.3 -4.312513 -7.42546 -5.868986 -5.868986 C -7.42546 -4.312513 -8.3 -2.201186 -8.3 0 C -8.3 2.201186 -7.42546 4.312513 -5.868986 5.868986 C -4.312513 7.42546 -2.201186 8.3 0 8.3 z" transform="translate(412.364 207.48)" style="fill: #f67f20; stroke: #000000; stroke-width: 1.05"/>
</g>
</g>
</g>
<g id="patch_11">
<path d="M 191.928 245.04
L 191.861998 245.664924
L 191.764874 246.280306
L 191.636629 246.886145
L 191.477261 247.482443
L 191.28677 248.069199
L 191.065158 248.646412
L 190.812424 249.214083
L 190.528568 249.772213
L 190.213589 250.3208
L 189.867489 250.859845
L 189.490266 251.389348
L 189.081921 251.909309
L 188.642454 252.419728
L 188.171866 252.920604
L 187.670155 253.411939
L 187.137321 253.893732
L 186.573366 254.365982
L 185.978289 254.828691
L 185.35209 255.281857
L 184.694768 255.725481
L 184.006325 256.159563
L 183.286759 256.584103
L 182.536071 256.999101
L 181.754261 257.404557
L 180.94133 257.800471
L 180.097275 258.186843
L 179.222099 258.563673
L 178.315801 258.93096
L 177.378381 259.288706
L 176.409839 259.636909
L 175.410174 259.97557
L 174.379388 260.304689
L 173.317479 260.624267
L 172.224448 260.934302
L 171.100295 261.234795
L 169.94502 261.525745
L 168.758623 261.807154
L 167.541104 262.079021
L 166.292463 262.341346
L 165.0127 262.594128
L 163.701814 262.837369
L 162.359807 263.071067
L 160.986677 263.295223
L 159.582426 263.509837
L 158.147052 263.71491
L 156.680556 263.91044
L 155.182938 264.096427
L 153.654198 264.272873
L 152.094336 264.439777
L 150.503352 264.597139
L 148.881246 264.744958
L 147.228017 264.883236
L 145.543667 265.011971
L 143.828194 265.131165
L 143.658454 265.270199
" style="fill: none; stroke: #000000; stroke-width: 0.85; stroke-linejoin: miter"/>
</g>
<g id="patch_12">
<path d="M 134.784 265.584
L 147.969653 258.153405
L 143.658454 265.270199
L 148.461558 272.06471
z
" style="stroke: #000000; stroke-width: 0.3; stroke-linejoin: miter"/>
</g>
<g id="patch_13">
<path d="M 174.648 318.336
L 174.581998 318.960924
L 174.484874 319.576306
L 174.356629 320.182145
L 174.197261 320.778443
L 174.00677 321.365199
L 173.785158 321.942412
L 173.532424 322.510083
L 173.248568 323.068213
L 172.933589 323.6168
L 172.587489 324.155845
L 172.210266 324.685348
L 171.801921 325.205309
L 171.362454 325.715728
L 170.891866 326.216604
L 170.390155 326.707939
L 169.857321 327.189732
L 169.293366 327.661982
L 168.698289 328.124691
L 168.07209 328.577857
L 167.414768 329.021481
L 166.726325 329.455563
L 166.006759 329.880103
L 165.256071 330.295101
L 164.474261 330.700557
L 163.66133 331.096471
L 162.817275 331.482843
L 161.942099 331.859673
L 161.035801 332.22696
L 160.098381 332.584706
L 159.129839 332.932909
L 158.130174 333.27157
L 157.099388 333.600689
L 156.037479 333.920267
L 154.944448 334.230302
L 153.820295 334.530795
L 152.66502 334.821745
L 151.478623 335.103154
L 150.261104 335.375021
L 149.012463 335.637346
L 147.7327 335.890128
L 146.421814 336.133369
L 145.079807 336.367067
L 143.706677 336.591223
L 142.302426 336.805837
L 140.867052 337.01091
L 139.400556 337.20644
L 137.902938 337.392427
L 136.374198 337.568873
L 134.814336 337.735777
L 133.223352 337.893139
L 131.601246 338.040958
L 129.948017 338.179236
L 128.263667 338.307971
L 126.548194 338.427165
L 126.378454 338.566199
" style="fill: none; stroke: #000000; stroke-width: 0.85; stroke-linejoin: miter"/>
</g>
<g id="patch_14">
<path d="M 117.504 338.88
L 130.689653 331.449405
L 126.378454 338.566199
L 131.181558 345.36071
z
" style="stroke: #000000; stroke-width: 0.3; stroke-linejoin: miter"/>
</g>
<g id="patch_15">
<path d="M 338.808 206.328
L 338.876449 205.703069
L 338.976034 205.087667
L 339.106756 204.481793
L 339.268612 203.885447
L 339.461605 203.298629
L 339.685734 202.72134
L 339.940999 202.153579
L 340.227399 201.595346
L 340.544935 201.046642
L 340.893608 200.507466
L 341.273416 199.977818
L 341.68436 199.457698
L 342.12644 198.947107
L 342.599655 198.446044
L 343.104007 197.95451
L 343.639494 197.472503
L 344.206118 197.000025
L 344.803877 196.537076
L 345.432772 196.083654
L 346.092803 195.639761
L 346.78397 195.205396
L 347.506273 194.78056
L 348.259712 194.365251
L 349.044286 193.959471
L 349.859997 193.56322
L 350.706843 193.176496
L 351.584825 192.799301
L 352.493943 192.431635
L 353.434197 192.073496
L 354.405587 191.724886
L 355.408113 191.385804
L 356.441774 191.056251
L 357.506572 190.736225
L 358.602505 190.425728
L 359.729574 190.12476
L 360.887779 189.833319
L 362.07712 189.551407
L 363.297597 189.279023
L 364.54921 189.016168
L 365.831959 188.762841
L 367.145843 188.519042
L 368.490864 188.284771
L 369.86702 188.060029
L 371.274312 187.844815
L 372.71274 187.639129
L 374.182304 187.442972
L 375.683004 187.256342
L 377.214839 187.079242
L 378.777811 186.911669
L 380.371918 186.753625
L 381.997162 186.605109
L 383.653541 186.466121
L 385.341056 186.336662
L 387.059707 186.216731
L 387.245663 186.077077
" style="fill: none; stroke: #000000; stroke-width: 0.85; stroke-linejoin: miter"/>
</g>
<g id="patch_16">
<path d="M 396.12 185.76
L 382.93709 193.195462
L 387.245663 186.077077
L 382.440051 179.284339
z
" style="stroke: #000000; stroke-width: 0.3; stroke-linejoin: miter"/>
</g>
<g id="patch_17">
<path d="M 229.320024 103.944
L 429.839976 103.944
Q 433.488 103.944 433.488 100.295976
L 433.488 22.200024
Q 433.488 18.552 429.839976 18.552
L 229.320024 18.552
Q 225.672 18.552 225.672 22.200024
L 225.672 100.295976
Q 225.672 103.944 229.320024 103.944
z
" style="fill: #ffffff; stroke: #cccccc; stroke-linejoin: miter"/>
</g>
<g id="line2d_31">
<g>
<path d="M 0 8.3 C 2.201186 8.3 4.312513 7.42546 5.868986 5.868986 C 7.42546 4.312513 8.3 2.201186 8.3 0 C 8.3 -2.201186 7.42546 -4.312513 5.868986 -5.868986 C 4.312513 -7.42546 2.201186 -8.3 0 -8.3 C -2.201186 -8.3 -4.312513 -7.42546 -5.868986 -5.868986 C -7.42546 -4.312513 -8.3 -2.201186 -8.3 0 C -8.3 2.201186 -7.42546 4.312513 -5.868986 5.868986 C -4.312513 7.42546 -2.201186 8.3 0 8.3 z" transform="translate(251.184 33.648)" style="fill: #1779b6; stroke: #000000; stroke-width: 1.05"/>
</g>
</g>
<g id="line2d_32">
<g>
<path d="M 0 8.3 C 2.201186 8.3 4.312513 7.42546 5.868986 5.868986 C 7.42546 4.312513 8.3 2.201186 8.3 0 C 8.3 -2.201186 7.42546 -4.312513 5.868986 -5.868986 C 4.312513 -7.42546 2.201186 -8.3 0 -8.3 C -2.201186 -8.3 -4.312513 -7.42546 -5.868986 -5.868986 C -7.42546 -4.312513 -8.3 -2.201186 -8.3 0 C -8.3 2.201186 -7.42546 4.312513 -5.868986 5.868986 C -4.312513 7.42546 -2.201186 8.3 0 8.3 z" transform="translate(251.184 59.688)" style="fill: #f67f20; stroke: #000000; stroke-width: 1.05"/>
</g>
</g>
<g id="line2d_33">
<g>
<path d="M 0 -8.3 L -8.3 8.3 L 8.3 8.3 z" transform="translate(251.184 84.84)" style="fill: #1779b6; stroke: #000000; stroke-width: 1.05; stroke-linejoin: miter"/>
</g>
</g>
<g id="text_22">
<text style="font-size: 18.25px; font-family: 'DejaVu Sans', sans-serif; text-anchor: start" x="283.92" y="40.032" transform="rotate(-0 283.92 40.032)">CuFeAl</text>
</g>
<g id="text_23">
<text style="font-size: 18.25px; font-family: 'DejaVu Sans', sans-serif; text-anchor: start" x="283.92" y="66.144" transform="rotate(-0 283.92 66.144)">CuFeAl</text>
</g>
<g id="text_24">
<!-- $Cu_xMg_{1-x}Cr_2O_4$ -->
<g transform="translate(283.92 91.848)">
<text>
<tspan x="0" y="-0.640625" style="font-style: oblique; font-size: 18.25px; font-family: 'DejaVu Sans', sans-serif">C</tspan>
<tspan x="12.74292" y="-0.640625" style="font-style: oblique; font-size: 18.25px; font-family: 'DejaVu Sans', sans-serif">u</tspan>
<tspan x="32.361963" y="-0.640625" style="font-style: oblique; font-size: 18.25px; font-family: 'DejaVu Sans', sans-serif">M</tspan>
<tspan x="48.107935" y="-0.640625" style="font-style: oblique; font-size: 18.25px; font-family: 'DejaVu Sans', sans-serif">g</tspan>
<tspan x="91.554456" y="-0.640625" style="font-style: oblique; font-size: 18.25px; font-family: 'DejaVu Sans', sans-serif">C</tspan>
<tspan x="104.297375" y="-0.640625" style="font-style: oblique; font-size: 18.25px; font-family: 'DejaVu Sans', sans-serif">r</tspan>
<tspan x="120.420581" y="-0.640625" style="font-style: oblique; font-size: 18.25px; font-family: 'DejaVu Sans', sans-serif">O</tspan>
<tspan x="24.30957" y="2.3125" style="font-style: oblique; font-size: 12.775px; font-family: 'DejaVu Sans', sans-serif">x</tspan>
<tspan x="83.502063" y="2.3125" style="font-style: oblique; font-size: 12.775px; font-family: 'DejaVu Sans', sans-serif">x</tspan>
<tspan x="59.692407" y="2.3125" style="font-size: 12.775px; font-family: 'DejaVu Sans', sans-serif">1</tspan>
<tspan x="70.309131" y="2.3125" style="font-size: 12.775px; font-family: 'DejaVu Sans', sans-serif">−</tspan>
<tspan x="111.800549" y="2.3125" style="font-size: 12.775px; font-family: 'DejaVu Sans', sans-serif">2</tspan>
<tspan x="134.785327" y="2.3125" style="font-size: 12.775px; font-family: 'DejaVu Sans', sans-serif">4</tspan>
</text>
</g>
</g>
</g>
<defs>
<clipPath id="p5c4e13d4b1">
<rect x="75.72" y="9.192" width="367.248" height="367.2"/>
</clipPath>
</defs>
</svg>

</body></html>
